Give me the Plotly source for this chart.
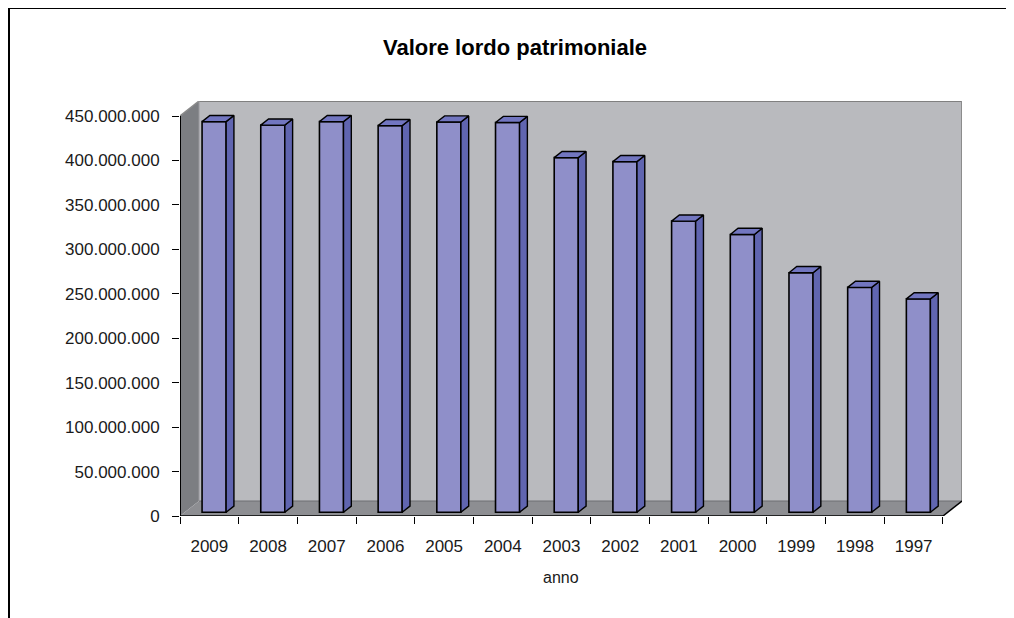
import plotly.graph_objects as go

# ---- data ----
years = ["2009", "2008", "2007", "2006", "2005", "2004", "2003",
         "2002", "2001", "2000", "1999", "1998", "1997"]
values = [439.5e6, 435.5e6, 439.5e6, 435.0e6, 439.0e6, 438.5e6, 399.0e6,
          394.5e6, 327.5e6, 312.5e6, 269.5e6, 253.0e6, 240.0e6]
y_ticks = [0, 50e6, 100e6, 150e6, 200e6, 250e6, 300e6, 350e6, 400e6, 450e6]
title_text = "Valore lordo patrimoniale"
x_title = "anno"

# ---- 3D projection constants ----
n = len(years)
ymax = 450e6
DX = 0.324            # depth offset in category units
DY = 16.9e6           # depth offset in value units
F0, F1 = 0.25, 0.66   # bar front/back depth fractions
W = 0.41              # bar front-face width (category units)

FRONT = "#8F8FC9"
SIDE = "#6065B0"
TOP = "#7276C0"
FONT = "Liberation Sans, Arial, sans-serif"

# page has an 8px body margin: figure coordinates = screen - 8
OFF = 8
FW, FH = 1014 - OFF, 618 - OFF
L, R = 180 - OFF, FW - (962 - OFF)
T, B = 101 - OFF, FH - (516 - OFF)
pw, ph = FW - L - R, FH - T - B
def px(xs): return (xs - OFF - L) / pw
def py(ys): return (FH - B - (ys - OFF)) / ph

fig = go.Figure()

# front faces
centers = [i + 0.5 + F0 * DX for i in range(n)]
fig.add_trace(go.Bar(
    x=centers, y=values, base=[F0 * DY] * n, width=W,
    marker=dict(color=FRONT, line=dict(color="black", width=1.6)),
    hoverinfo="skip", showlegend=False))

# side and top faces built from the values
ddx = (F1 - F0) * DX
ddy = (F1 - F0) * DY
sx, sy, tx, ty = [], [], [], []
for c, v in zip(centers, values):
    xl, xr = c - W / 2, c + W / 2
    yb, yt = F0 * DY, F0 * DY + v
    sx += [xr, xr + ddx, xr + ddx, xr, xr, None]
    sy += [yb, yb + ddy, yt + ddy, yt, yb, None]
    tx += [xl, xr, xr + ddx, xl + ddx, xl, None]
    ty += [yt, yt, yt + ddy, yt + ddy, yt, None]
fig.add_trace(go.Scatter(x=sx, y=sy, mode="lines", fill="toself", fillcolor=SIDE,
                         line=dict(color="black", width=1.4), hoverinfo="skip",
                         showlegend=False))
fig.add_trace(go.Scatter(x=tx, y=ty, mode="lines", fill="toself", fillcolor=TOP,
                         line=dict(color="black", width=1.4), hoverinfo="skip",
                         showlegend=False))

shapes = []
# back wall
shapes.append(dict(type="rect", xref="x", yref="y", x0=DX, x1=n + DX, y0=DY, y1=ymax + DY,
                   fillcolor="#B9BABE", line=dict(width=0), layer="below"))
# left wall
shapes.append(dict(type="path", xref="x", yref="y",
                   path=f"M 0 0 L {DX} {DY} L {DX} {ymax + DY} L 0 {ymax} Z",
                   fillcolor="#7C7E82", line=dict(width=0), layer="below"))
# floor
shapes.append(dict(type="path", xref="x", yref="y",
                   path=f"M 0 0 L {n} 0 L {n + DX} {DY} L {DX} {DY} Z",
                   fillcolor="#8D8E92", line=dict(width=0), layer="below"))
# wall edges
shapes.append(dict(type="line", xref="x", yref="y", x0=0, y0=ymax, x1=DX, y1=ymax + DY,
                   line=dict(color="#8A8A8A", width=1.5), layer="below"))
shapes.append(dict(type="line", xref="x", yref="y", x0=DX, y0=ymax + DY, x1=n + DX, y1=ymax + DY,
                   line=dict(color="#808080", width=2), layer="below"))
shapes.append(dict(type="line", xref="x", yref="y", x0=n + DX, y0=DY, x1=n + DX, y1=ymax + DY,
                   line=dict(color="#8C8C8C", width=2), layer="below"))
shapes.append(dict(type="line", xref="x", yref="y", x0=DX, y0=DY, x1=n + DX, y1=DY,
                   line=dict(color="#6E6E72", width=1.2), layer="below"))
shapes.append(dict(type="line", xref="x", yref="y", x0=DX, y0=DY, x1=DX, y1=ymax + DY,
                   line=dict(color="#9A9A9E", width=1), layer="below"))
# axis lines
shapes.append(dict(type="line", xref="x", yref="y", x0=0, y0=0, x1=0, y1=ymax,
                   line=dict(color="black", width=2)))
shapes.append(dict(type="line", xref="x", yref="y", x0=0, y0=0, x1=n, y1=0,
                   line=dict(color="black", width=1.5)))
shapes.append(dict(type="line", xref="x", yref="y", x0=n, y0=0, x1=n + DX, y1=DY,
                   line=dict(color="black", width=1.5)))
# outer frame (chart area border)
shapes.append(dict(type="line", xref="paper", yref="paper", x0=px(9), x1=px(9), y0=py(8), y1=py(640),
                   line=dict(color="black", width=2)))
shapes.append(dict(type="line", xref="paper", yref="paper", x0=px(8), x1=px(1040), y0=py(8), y1=py(8),
                   line=dict(color="black", width=2)))

fig.update_layout(
    width=FW, height=FH,
    margin=dict(l=L, r=R, t=T, b=B),
    paper_bgcolor="white", plot_bgcolor="white",
    separators=",.",
    showlegend=False,
    shapes=shapes,
    title=dict(text=f"<b>{title_text}</b>", x=(515 - OFF) / FW, xanchor="center",
               y=1 - (47 - OFF) / FH, yanchor="middle", yref="container",
               font=dict(family=FONT, size=22, color="black")),
    font=dict(family=FONT, color="#1a1a1a"),
    xaxis=dict(range=[0, n + DX], showgrid=False, zeroline=False, showline=False,
               tickmode="array", tickvals=[i + 0.5 for i in range(n)], ticktext=years,
               ticks="", tickfont=dict(size=17, color="#1a1a1a"), ticklabelstandoff=18,
               minor=dict(tickmode="array", tickvals=list(range(n + 1)), ticks="outside",
                          ticklen=7, tickwidth=1, tickcolor="black", showgrid=False),
               fixedrange=True),
    yaxis=dict(range=[0, ymax + DY], showgrid=False, zeroline=False, showline=False,
               tickmode="array", tickvals=y_ticks, tickformat=",d",
               ticks="outside", ticklen=7, tickwidth=1, tickcolor="black",
               tickfont=dict(size=17, color="#1a1a1a"), ticklabelstandoff=9,
               fixedrange=True),
    annotations=[dict(text=x_title, xref="x", yref="paper", x=n / 2, y=py(577),
                      xanchor="center", yanchor="middle", showarrow=False,
                      font=dict(family=FONT, size=16, color="#1a1a1a"))],
)

fig.write_html("out.html")
